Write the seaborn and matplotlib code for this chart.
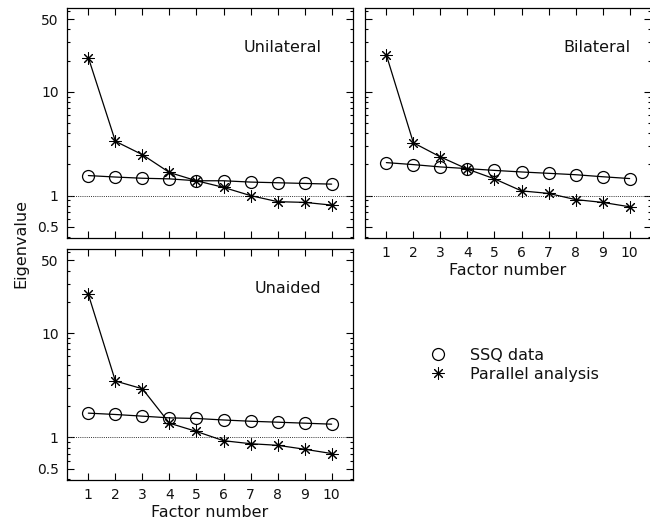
import numpy as np
import pandas as pd
import matplotlib
matplotlib.use("Agg")
import matplotlib.pyplot as plt
from matplotlib.lines import Line2D
from matplotlib.ticker import FixedLocator, LogLocator, NullFormatter
import seaborn as sns

# Eigenvalues of the first ten factors for each hearing-aid condition
factors = list(range(1, 11))
unilateral_ssq = [1.56, 1.51, 1.47, 1.45, 1.39, 1.39, 1.35, 1.33, 1.31, 1.29]
unilateral_par = [21.4, 3.34, 2.48, 1.67, 1.39, 1.20, 1.00, 0.874, 0.86, 0.81]
bilateral_ssq = [2.08, 1.99, 1.89, 1.82, 1.75, 1.69, 1.64, 1.59, 1.52, 1.46]
bilateral_par = [22.7, 3.23, 2.36, 1.80, 1.45, 1.11, 1.05, 0.915, 0.86, 0.78]
unaided_ssq = [1.71, 1.66, 1.60, 1.54, 1.52, 1.47, 1.43, 1.40, 1.37, 1.34]
unaided_par = [23.6, 3.48, 2.93, 1.37, 1.14, 0.93, 0.87, 0.84, 0.77, 0.70]

panels = ["Unilateral", "Bilateral", "Unaided"]
series_names = ["SSQ data", "Parallel analysis"]
ytick_values = [0.5, 1, 10, 50]
ytick_labels = ["0.5", "1", "10", "50"]

frames = []
for name, ssq, par in [("Unilateral", unilateral_ssq, unilateral_par),
                       ("Bilateral", bilateral_ssq, bilateral_par),
                       ("Unaided", unaided_ssq, unaided_par)]:
    frames.append(pd.DataFrame({"panel": name, "series": series_names[0],
                                "factor": factors, "eigenvalue": ssq}))
    frames.append(pd.DataFrame({"panel": name, "series": series_names[1],
                                "factor": factors, "eigenvalue": par}))
df = pd.concat(frames, ignore_index=True)

sns.set_style("ticks")
plt.rcParams["font.family"] = ["DejaVu Sans"]
plt.rcParams["axes.linewidth"] = 0.9
plt.rcParams["text.color"] = "#111111"
plt.rcParams["axes.labelcolor"] = "#111111"

W, H = 650, 525
fig = plt.figure(figsize=(W / 100, H / 100), dpi=100)


def px_axes(left, top, right, bottom):
    return fig.add_axes([left / W, 1 - bottom / H, (right - left) / W, (bottom - top) / H])


axes = {
    "Unilateral": px_axes(67, 8.3, 353, 238),
    "Bilateral": px_axes(365, 8.3, 651, 238),
    "Unaided": px_axes(67, 249.3, 353, 480),
}
label_x = {"Unilateral": 9.63, "Bilateral": 10.05, "Unaided": 9.63}

star = (8, 2, 0)
markers = {"SSQ data": "o", "Parallel analysis": star}
edge_widths = {"SSQ data": 0.9, "Parallel analysis": 0.75}

for name, ax in axes.items():
    ax.axhline(1, color="#333333", lw=0.7, dashes=(1, 1.2), zorder=1)
    for series in series_names:
        sub = df[(df["panel"] == name) & (df["series"] == series)]
        sns.lineplot(data=sub, x="factor", y="eigenvalue",
                     marker=markers[series], color="black", legend=False,
                     ax=ax, lw=0.9, ms=8.6, mfc="none", mec="black",
                     mew=edge_widths[series], zorder=3)
    ax.set_yscale("log")
    ax.set_ylim(0.39, 64)
    ax.set_xlim(0.21, 10.79)
    ax.xaxis.set_major_locator(FixedLocator(factors))
    ax.yaxis.set_major_locator(FixedLocator(ytick_values))
    ax.yaxis.set_minor_locator(LogLocator(base=10, subs=np.arange(2, 10)))
    ax.yaxis.set_minor_formatter(NullFormatter())
    ax.tick_params(which="both", direction="in", top=True, right=True,
                   labelsize=10, width=0.8, color="black", labelcolor="#111111")
    ax.tick_params(which="major", length=5, pad=6)
    ax.tick_params(which="minor", length=2.5)
    ax.set_ylabel("")
    ax.set_xlabel("")
    if name == "Unilateral":
        ax.set_yticklabels(ytick_labels)
        ax.set_xticklabels([])
    elif name == "Bilateral":
        ax.set_yticklabels([])
        ax.set_xticklabels([str(f) for f in factors])
        ax.set_xlabel("Factor number", fontsize=11.5, labelpad=2)
    else:
        ax.set_yticklabels(ytick_labels)
        ax.set_xticklabels([str(f) for f in factors])
        ax.set_xlabel("Factor number", fontsize=11.5, labelpad=2)
    for s in ax.spines.values():
        s.set_visible(True)
        s.set_color("black")
    ax.text(label_x[name], 27, name, ha="right", va="center", fontsize=11.5)

fig.text(21 / W, 1 - 243 / H, "Eigenvalue", rotation=90, ha="center",
         va="center", fontsize=11.5)

handles = [
    Line2D([], [], ls="none", marker="o", ms=8.6, mfc="none", mec="black", mew=0.9),
    Line2D([], [], ls="none", marker=star, ms=8.6, mec="black", mew=0.75),
]
fig.legend(handles, series_names, loc="upper left",
           bbox_to_anchor=(428 / W, 1 - 348 / H), frameon=False,
           fontsize=11.5, handlelength=1.2, handletextpad=1.45,
           labelspacing=0.22, borderpad=0, borderaxespad=0)

fig.savefig("out.png", dpi=100)
